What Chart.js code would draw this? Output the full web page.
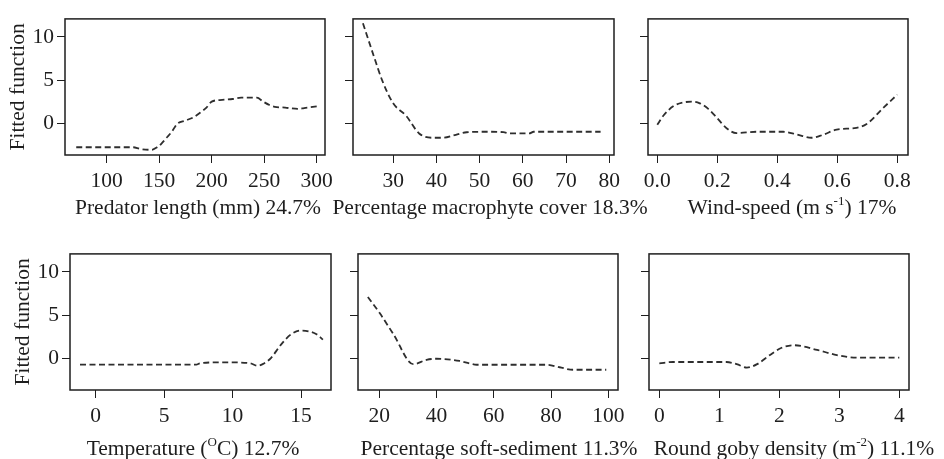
<!DOCTYPE html>
<html>
<head>
<meta charset="utf-8">
<script src="https://cdn.jsdelivr.net/npm/chart.js@4.4.1/dist/chart.umd.min.js"></script>
<style>
  html, body { margin: 0; padding: 0; background: #fff; overflow: hidden; }
  body { width: 944px; height: 459px; position: relative; }
  canvas { position: absolute; }
</style>
</head>
<body>
<script>
// Fitted functions (partial dependence), six panels in a 2x3 grid
const Y_RANGE = [-3.7, 12.1];
const yTicks = [0, 5, 10];

const lenX = [71, 125, 132, 143, 148, 152, 157, 162, 167, 175, 183, 190, 195, 200, 210, 220, 228, 243, 249, 255, 260, 270, 282, 288, 300];
const lenY = [-2.8, -2.8, -3.0, -3.1, -2.8, -2.4, -1.7, -1.0, -0.1, 0.3, 0.7, 1.3, 1.8, 2.5, 2.7, 2.8, 2.95, 2.95, 2.5, 2.1, 1.9, 1.8, 1.65, 1.75, 1.95];
const lenRange = [60.3, 307.9];
const lenTicks = [100, 150, 200, 250, 300];

const macX = [23, 25.5, 27.5, 30, 33, 36, 39, 41.5, 44.5, 47, 52, 55.5, 57, 61.5, 62.5, 78];
const macY = [11.6, 7.8, 4.9, 2.3, 0.85, -1.2, -1.7, -1.7, -1.35, -1.06, -1.0, -1.05, -1.2, -1.2, -1.0, -1.0];
const macRange = [20.7, 81.1];
const macTicks = [30, 40, 50, 60, 70, 80];

const windX = [0, 0.02, 0.053, 0.087, 0.12, 0.142, 0.17, 0.198, 0.231, 0.264, 0.33, 0.42, 0.464, 0.514, 0.553, 0.598, 0.664, 0.698, 0.753, 0.8];
const windY = [-0.2, 0.85, 1.95, 2.4, 2.5, 2.3, 1.65, 0.65, -0.6, -1.15, -1.0, -1.0, -1.3, -1.7, -1.35, -0.75, -0.55, -0.1, 1.75, 3.3];
const windRange = [-0.031, 0.836];
const windTicks = [0, 0.2, 0.4, 0.6, 0.8];
const windTickLabels = ['0.0', '0.2', '0.4', '0.6', '0.8'];

const tempX = [-1.15, 7.35, 7.6, 8.8, 10, 11.3, 11.8, 12.2, 12.8, 13.5, 14.3, 15, 15.6, 16.1, 16.6];
const tempY = [-0.75, -0.75, -0.6, -0.5, -0.5, -0.6, -0.88, -0.7, 0.0, 1.5, 2.8, 3.2, 3.1, 2.8, 2.15];
const tempRange = [-1.88, 17.19];
const tempTicks = [0, 5, 10, 15];

const sedX = [16, 20.2, 24.9, 31.9, 36.5, 40, 48.1, 51.6, 54, 78.4, 83, 87.7, 99.3];
const sedY = [7.1, 5.2, 2.8, -0.7, -0.2, -0.07, -0.33, -0.62, -0.77, -0.77, -1.06, -1.35, -1.35];
const sedRange = [12.56, 103.4];
const sedTicks = [20, 40, 60, 80, 100];

const gobyX = [0, 0.23, 1.12, 1.29, 1.46, 1.63, 1.85, 2.04, 2.24, 2.63, 2.96, 3.3, 4.0];
const gobyY = [-0.6, -0.45, -0.45, -0.7, -1.1, -0.7, 0.4, 1.2, 1.5, 0.95, 0.35, 0.05, 0.05];
const gobyRange = [-0.172, 4.162];
const gobyTicks = [0, 1, 2, 3, 4];

const yTitle = 'Fitted function';
const lenTitle = ['Predator length (mm) 24.7%'];
const macTitle = ['Percentage macrophyte cover 18.3%'];
const windTitle = ['Wind-speed (m s', { sup: '-1' }, ') 17%'];
const tempTitle = ['Temperature (', { sup: 'O' }, 'C) 12.7%'];
const sedTitle = ['Percentage soft-sediment 11.3%'];
const gobyTitle = ['Round goby density (m', { sup: '-2' }, ') 11.1%'];

// layout: plot box [left, top, right, bottom] in page px, caption centre x / baseline y
const FAMILY = '"Liberation Serif", "Times New Roman", serif';
const FS = 21.5, SUP = 13;
const INK = '#1e1e1e', LINE = '#2e2e2e';
const PAD_T = 8, PAD_R = 36, AXIS_H = 70;

const panels = [
  { box: [65, 11, 325, 155], xs: lenX, ys: lenY, range: lenRange, ticks: lenTicks, title: lenTitle, cx: 198, by: 214, yLab: true },
  { box: [353, 11, 614, 155], xs: macX, ys: macY, range: macRange, ticks: macTicks, title: macTitle, cx: 490, by: 214 },
  { box: [648, 11, 908, 155], xs: windX, ys: windY, range: windRange, ticks: windTicks, labels: windTickLabels, title: windTitle, cx: 792, by: 214 },
  { box: [70, 246, 331, 390], xs: tempX, ys: tempY, range: tempRange, ticks: tempTicks, title: tempTitle, cx: 193, by: 455, yLab: true },
  { box: [358, 246, 618, 390], xs: sedX, ys: sedY, range: sedRange, ticks: sedTicks, title: sedTitle, cx: 499, by: 455 },
  { box: [649, 246, 909, 390], xs: gobyX, ys: gobyY, range: gobyRange, ticks: gobyTicks, title: gobyTitle, cx: 794, by: 455 },
];

const frame = {
  id: 'frame',
  afterDatasetsDraw(c) {
    const a = c.chartArea, ctx = c.ctx;
    ctx.save(); ctx.strokeStyle = INK; ctx.lineWidth = 1.5;
    ctx.strokeRect(a.left, a.top, a.width, a.height); ctx.restore();
  }
};

// x-axis caption with superscripts, drawn as canvas text
function caption(p) {
  return {
    id: 'caption',
    afterDraw(c) {
      const a = c.chartArea, ctx = c.ctx;
      ctx.save(); ctx.fillStyle = INK; ctx.textBaseline = 'alphabetic'; ctx.textAlign = 'left';
      const parts = p.title.map(t => typeof t === 'string'
        ? { t, f: `${FS}px ${FAMILY}`, dy: 0 }
        : { t: t.sup, f: `${SUP}px ${FAMILY}`, dy: -9 });
      let w = 0;
      parts.forEach(q => { ctx.font = q.f; q.w = ctx.measureText(q.t).width; w += q.w; });
      let x = a.left + (p.cx - p.box[0]) - w / 2;
      const y = a.bottom + (p.by - p.box[3]);
      parts.forEach(q => { ctx.font = q.f; ctx.fillText(q.t, x, y + q.dy); x += q.w; });
      ctx.restore();
    }
  };
}

function draw(p) {
  const [l, t, r, b] = p.box;
  const yw = p.yLab ? l : 40;
  const cv = document.createElement('canvas');
  cv.width = yw + (r - l) + PAD_R; cv.height = PAD_T + (b - t) + AXIS_H;
  cv.style.left = (l - yw) + 'px'; cv.style.top = (t - PAD_T) + 'px';
  cv.style.width = cv.width + 'px'; cv.style.height = cv.height + 'px';
  document.body.appendChild(cv);
  const font = { family: FAMILY, size: FS };
  new Chart(cv, {
    type: 'line',
    data: {
      datasets: [{
        data: p.xs.map((x, i) => ({ x, y: p.ys[i] })),
        borderColor: LINE, borderWidth: 1.8, borderDash: [6, 3.5],
        pointRadius: 0, cubicInterpolationMode: 'monotone', fill: false,
      }],
    },
    options: {
      responsive: false, animation: false, events: [],
      layout: { padding: { top: PAD_T, right: PAD_R, left: 0, bottom: 0 } },
      plugins: { legend: { display: false }, tooltip: { enabled: false } },
      scales: {
        x: {
          type: 'linear', min: p.range[0], max: p.range[1],
          afterBuildTicks: s => { s.ticks = p.ticks.map(v => ({ value: v })); },
          afterFit: s => { s.height = AXIS_H; },
          grid: { drawOnChartArea: false, drawTicks: true, tickLength: 8, color: INK, lineWidth: 1 },
          border: { display: false },
          ticks: { padding: 5.5, color: INK, font, maxRotation: 0, autoSkip: false,
            callback: (v, i) => p.labels ? p.labels[i] : String(v) },
        },
        y: {
          type: 'linear', min: Y_RANGE[0], max: Y_RANGE[1],
          afterBuildTicks: s => { s.ticks = yTicks.map(v => ({ value: v })); },
          afterFit: s => { s.width = yw; },
          grid: { drawOnChartArea: false, drawTicks: true, tickLength: 8, color: INK, lineWidth: 1 },
          border: { display: false },
          ticks: { padding: 3, color: INK, font, callback: v => p.yLab ? String(v) : '' },
          title: { display: !!p.yLab, text: yTitle, color: INK, font, padding: { top: l - 47 - 12.9, bottom: 0 } },
        },
      },
    },
    plugins: [frame, caption(p)],
  });
}

panels.forEach(draw);
</script>
</body>
</html>
